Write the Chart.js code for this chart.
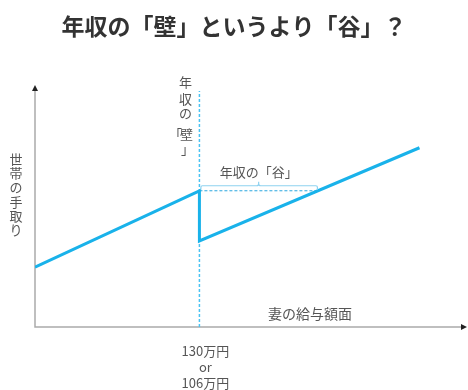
<!DOCTYPE html>
<html lang="ja">
<head>
<meta charset="utf-8">
<title>年収の「壁」というより「谷」？</title>
<script src="https://cdn.jsdelivr.net/npm/chart.js@4.4.1/dist/chart.umd.min.js"></script>
<style>
  html, body { margin: 0; padding: 0; background: #fff; }
  #wrap { width: 468px; height: 390px; }
</style>
</head>
<body>
<div id="wrap"><canvas id="wallChart" width="468" height="390"></canvas></div>
<script>
// wife's salary (万円) and household take-home (relative units)
const incomes = [0, 130, 130, 304];
const takeHome = [25, 57, 36, 75];
const wallIncome = 130;
const xMax = 340;
const yMax = 100;
const wallTop = 98.7;

const titleText = '年収の「壁」というより「谷」？';
const yAxisLabel = '世帯の手取り';
const xAxisLabel = '妻の給与額面';
const wallLabel = ['年', '収', 'の', '「', '壁', '」'];
const valleyLabel = '年収の「谷」';
const wallTicks = ['130万円', 'or', '106万円'];

const FONT = '"Noto Sans CJK JP", "Noto Sans", sans-serif';
const LINE_COLOR = '#19b2ea';
const TEXT_COLOR = '#555';

// income where take-home gets back to the level just before the wall
const levelAtWall = takeHome[1];
const valleyIncome = incomes[2] +
  (levelAtWall - takeHome[2]) * (incomes[3] - incomes[2]) / (takeHome[3] - takeHome[2]);

const mainPoints = incomes.map((x, i) => ({ x: x, y: takeHome[i] }));

const annotations = {
  id: 'annotations',
  beforeDatasetsDraw(chart) {
    const ctx = chart.ctx;
    const area = chart.chartArea;
    ctx.save();
    // axes
    ctx.strokeStyle = '#aaa';
    ctx.lineWidth = 1.5;
    ctx.beginPath();
    ctx.moveTo(area.left, area.top + 2);
    ctx.lineTo(area.left, area.bottom);
    ctx.lineTo(area.right - 2, area.bottom);
    ctx.stroke();
    // arrow heads
    ctx.fillStyle = '#222';
    ctx.beginPath();
    ctx.moveTo(area.left, area.top - 3);
    ctx.lineTo(area.left - 3, area.top + 3);
    ctx.lineTo(area.left + 3, area.top + 3);
    ctx.closePath();
    ctx.fill();
    ctx.beginPath();
    ctx.moveTo(area.right + 2, area.bottom);
    ctx.lineTo(area.right - 4, area.bottom - 3);
    ctx.lineTo(area.right - 4, area.bottom + 3);
    ctx.closePath();
    ctx.fill();
    ctx.restore();
  },
  afterDraw(chart) {
    const ctx = chart.ctx;
    const xs = chart.scales.x;
    const ys = chart.scales.y;
    const area = chart.chartArea;
    const wallX = xs.getPixelForValue(wallIncome);
    const levelY = ys.getPixelForValue(levelAtWall);
    const valleyX = xs.getPixelForValue(valleyIncome);

    ctx.save();
    ctx.textAlign = 'center';
    ctx.textBaseline = 'middle';

    // title
    ctx.fillStyle = '#333';
    ctx.font = 'bold 23px ' + FONT;
    ctx.fillText(titleText, chart.width / 2, 26);

    ctx.fillStyle = TEXT_COLOR;
    ctx.font = '13px ' + FONT;

    // vertical y-axis label
    [...yAxisLabel].forEach((ch, i) => {
      ctx.fillText(ch, 16, 159 + i * 14.2);
    });

    // vertical wall label
    const wx = wallX - 14;
    ctx.fillText(wallLabel[0], wx, 82);
    ctx.fillText(wallLabel[1], wx, 99);
    ctx.fillText(wallLabel[2], wx, 113);
    ctx.fillText(wallLabel[3], wx - 10, 134);
    ctx.fillText(wallLabel[4], wx + 1, 134);
    ctx.fillText(wallLabel[5], wx + 2, 149);

    // x-axis label
    ctx.font = '14px ' + FONT;
    ctx.fillText(xAxisLabel, 310, area.bottom - 13);

    // wall amount under the axis
    ctx.font = '13px ' + FONT;
    wallTicks.forEach((t, i) => {
      ctx.fillText(t, wallX + 6, 351 + i * 16);
    });

    // valley label and brace
    ctx.fillText(valleyLabel, (wallX + valleyX) / 2, levelY - 19);
    const by = levelY - 5;
    const mid = (wallX + valleyX) / 2;
    ctx.strokeStyle = '#8fd2f0';
    ctx.lineWidth = 1.2;
    ctx.beginPath();
    ctx.moveTo(wallX + 1.5, levelY - 1);
    ctx.lineTo(wallX + 1.5, by + 1.5);
    ctx.quadraticCurveTo(wallX + 1.5, by, wallX + 3, by);
    ctx.lineTo(mid - 2, by);
    ctx.quadraticCurveTo(mid, by, mid, by - 2);
    ctx.lineTo(mid, by - 4);
    ctx.moveTo(mid, by - 2);
    ctx.quadraticCurveTo(mid, by, mid + 2, by);
    ctx.lineTo(valleyX - 2, by);
    ctx.quadraticCurveTo(valleyX - 0.5, by, valleyX - 0.5, by + 1.5);
    ctx.lineTo(valleyX - 0.5, levelY - 1);
    ctx.stroke();
    ctx.restore();
  }
};

new Chart(document.getElementById('wallChart'), {
  type: 'line',
  data: {
    datasets: [
      {
        label: '手取り',
        data: mainPoints,
        borderColor: LINE_COLOR,
        borderWidth: 3,
        pointRadius: 0,
        tension: 0,
        order: 1
      },
      {
        label: '谷',
        data: [{ x: wallIncome, y: levelAtWall }, { x: valleyIncome, y: levelAtWall }],
        borderColor: '#2aa6de',
        borderWidth: 1,
        borderDash: [3, 2],
        pointRadius: 0,
        order: 2
      },
      {
        label: '壁',
        data: [{ x: wallIncome, y: 0 }, { x: wallIncome, y: wallTop }],
        borderColor: '#4cc3f2',
        borderWidth: 1.5,
        borderDash: [3, 2],
        pointRadius: 0,
        order: 3
      }
    ]
  },
  options: {
    responsive: false,
    animation: false,
    layout: {
      padding: { left: 35, right: 3, top: 88, bottom: 63 }
    },
    plugins: {
      legend: { display: false },
      tooltip: { enabled: false }
    },
    scales: {
      x: { type: 'linear', min: 0, max: xMax, display: false },
      y: { min: 0, max: yMax, display: false }
    }
  },
  plugins: [annotations]
});
</script>
</body>
</html>
